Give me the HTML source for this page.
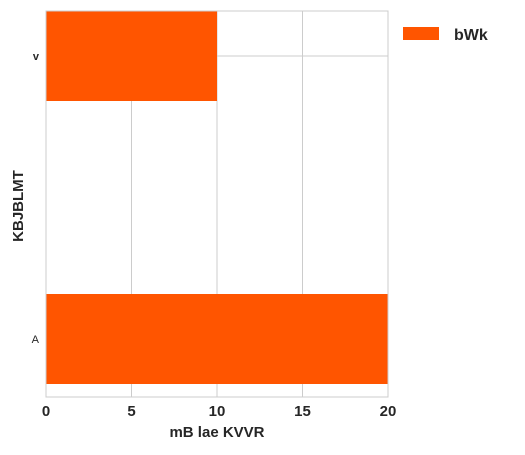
<!DOCTYPE html>
<html><head><meta charset="utf-8"><style>
body{margin:0;background:#fff;font-family:"Liberation Sans",sans-serif}
</style></head><body>
<svg width="525" height="450" xmlns="http://www.w3.org/2000/svg">
<g id="g"></g>
</svg>
<script>
const categories=["A","v"];
const values=[20,10];
const xTicks=[0,5,10,15,20];
const seriesName="bWk";
const X0=46,X1=388,Y0=11,Y1=397;
const xs=v=>X0+(v-0)/(20-0)*(X1-X0);
const cy=i=>339+(56-339)*i; // category centers
const BH=90;
const g=document.getElementById('g');
const NS="http://www.w3.org/2000/svg";
function mk(t,a,txt){const e=document.createElementNS(NS,t);for(const k in a)e.setAttribute(k,a[k]);if(txt!==undefined)e.textContent=txt;g.appendChild(e);return e;}
// gridlines
xTicks.forEach(t=>{const l=mk('line',{x1:xs(t),x2:xs(t),y1:Y0,y2:Y1,stroke:'#cccccc','stroke-width':1});

});
categories.forEach((c,i)=>{const l=mk('line',{x1:X0,x2:X1,y1:cy(i),y2:cy(i),stroke:'#cccccc','stroke-width':1});

});
// bars
categories.forEach((c,i)=>{const r=mk('rect',{x:xs(0),y:cy(i)-BH/2,width:xs(values[i])-xs(0),height:BH,fill:'#ff5500'});

});
// frame
const f=mk('rect',{x:X0,y:Y0,width:X1-X0,height:Y1-Y0,fill:'none',stroke:'#cccccc','stroke-width':1});


// x tick labels
xTicks.forEach(t=>{const e=mk('text',{x:xs(t),y:416,'text-anchor':'middle','font-size':15,'font-weight':'bold',fill:'#262626'},String(t));

});
// y tick labels
categories.forEach((c,i)=>{const e=mk('text',{x:39,y:cy(i)+4,'text-anchor':'end','font-size':11,'font-weight':c==='v'?'bold':'normal',fill:'#262626'},c);

});
const xt=mk('text',{x:217,y:437,'text-anchor':'middle','font-size':15,'font-weight':'bold',fill:'#262626'},'mB lae KVVR');


const yt=mk('text',{x:0,y:0,'text-anchor':'middle','font-size':15,'font-weight':'bold',fill:'#262626',transform:'translate(23,206) rotate(-90)'},'KBJBLMT');


const lp=mk('rect',{x:403,y:27,width:36,height:13,fill:'#ff5500'});


const lt=mk('text',{x:454,y:40,'font-size':16,'font-weight':'bold',fill:'#262626'},seriesName);


</script>
</body></html>
